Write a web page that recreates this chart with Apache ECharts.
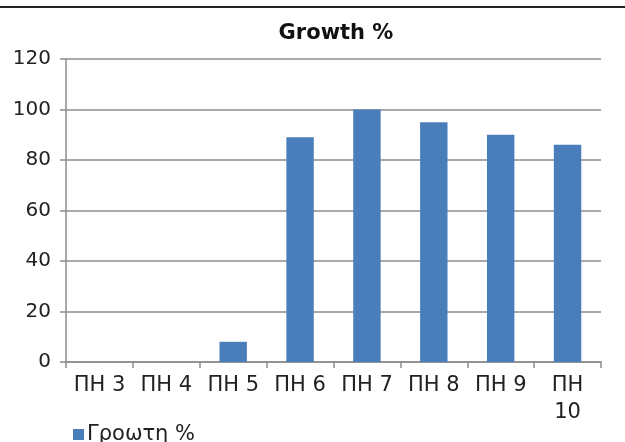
<!DOCTYPE html>
<html>
<head>
<meta charset="utf-8">
<script src="https://cdn.jsdelivr.net/npm/echarts@6/dist/echarts.min.js"></script>
<style>
  html, body { margin: 0; padding: 0; background: #fff; }
  #chart { width: 625px; height: 442px; }
</style>
</head>
<body>
<div id="chart"></div>
<script>
// --- data ---
const categories = ['ΠΗ 3', 'ΠΗ 4', 'ΠΗ 5', 'ΠΗ 6', 'ΠΗ 7', 'ΠΗ 8', 'ΠΗ 9', 'ΠΗ 10'];
const growth = [0, 0, 8, 89, 100, 95, 90, 86];
const seriesName = 'Γροωτη %';
const titleText = 'Growth %';

const FONT = '"DejaVu Sans", "Open Sans", sans-serif';
const gridGray = '#8c8c8c';

const chart = echarts.init(document.getElementById('chart'));
chart.setOption({
    backgroundColor: '#fff',
    animation: false,
    title: {
        text: titleText,
        left: 331,
        textAlign: 'center',
        top: 18,
        textStyle: { fontFamily: FONT, fontSize: 21, fontWeight: 'bold', color: '#111' }
    },
    graphic: [{
        type: 'line',
        shape: { x1: 0, y1: 7, x2: 625, y2: 7 },
        style: { stroke: '#222', lineWidth: 2 }
    }],
    grid: { left: 66, right: 24, top: 59, bottom: 80 },
    legend: {
        left: 68,
        top: 419,
        icon: 'rect',
        itemWidth: 11,
        itemHeight: 11,
        itemGap: 4,
        textStyle: { fontFamily: FONT, fontSize: 21, color: '#222', padding: [0, 0, 0, -2] },
        data: [seriesName]
    },
    xAxis: {
        type: 'category',
        data: categories,
        axisLine: { lineStyle: { color: gridGray, width: 1.5 } },
        axisTick: { show: true, length: 6, lineStyle: { color: gridGray, width: 1.5 } },
        axisLabel: {
            fontFamily: FONT, fontSize: 21, color: '#222', margin: 10,
            interval: 0, lineHeight: 27,
            // long labels wrap onto two lines, like the original
            formatter: v => v.length > 4 ? v.replace(' ', '\n') : v
        }
    },
    yAxis: {
        type: 'value',
        min: 0,
        max: 120,
        interval: 20,
        axisLine: { show: true, lineStyle: { color: gridGray, width: 1.5 } },
        axisTick: { show: true, length: 6, lineStyle: { color: gridGray, width: 1.5 } },
        splitLine: { lineStyle: { color: gridGray, width: 1.5 } },
        axisLabel: { fontFamily: FONT, fontSize: 20, color: '#222', margin: 15 }
    },
    series: [{
        name: seriesName,
        type: 'bar',
        data: growth,
        barWidth: '41%',
        itemStyle: { color: '#4a7ebb' }
    }]
});
</script>
</body>
</html>
